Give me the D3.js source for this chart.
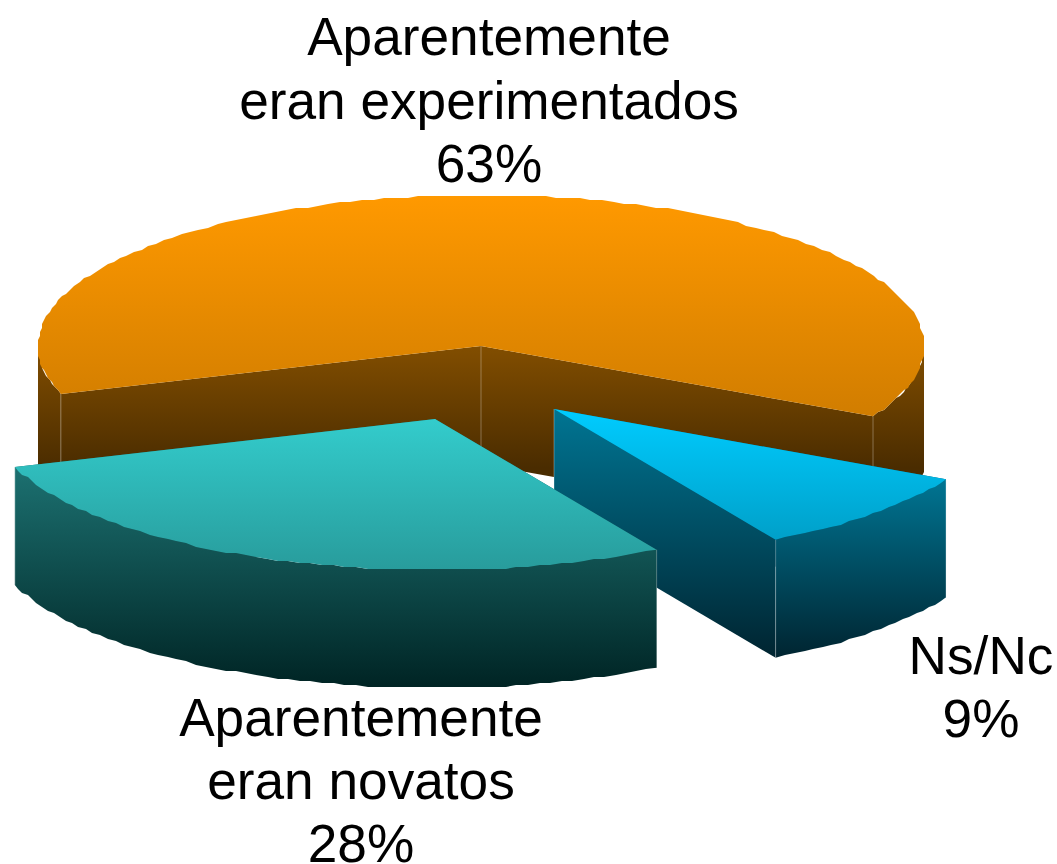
<!DOCTYPE html>
<html>
<head>
<meta charset="utf-8">
<style>html,body{margin:0;padding:0;background:#fff}svg{display:block}text{font-family:"Liberation Sans",Arial,sans-serif;fill:#000}</style>
<script src="https://cdn.jsdelivr.net/npm/d3@7/dist/d3.min.js"></script>
</head>
<body>
<svg id="chart" width="1057" height="864"></svg>
<script>
// Data
const categories = ["Aparentemente eran experimentados", "Ns/Nc", "Aparentemente eran novatos"];
const values = [62.85, 8.95, 28.2];
const labelLines = [["Aparentemente", "eran experimentados", "63%"], ["Ns/Nc", "9%"], ["Aparentemente", "eran novatos", "28%"]];

// Styles: [top start, top end, wall start, wall end]
const palette = [
  ["#ff9900", "#d17d00", "#824e00", "#4a2c00"],
  ["#00ccff", "#00a0c9", "#007593", "#002430"],
  ["#33cccc", "#289c9c", "#1c7171", "#002424"]
];

// Layout
const W = 1057, H = 864;
const cx = 481, cy = 346, rx = 443, ry = 151, depth = 118, grid = 2, stepDeg = 1.5;
const explode = [[0, 0], [73, 63], [-46, 73]];
const labelPos = [[489, 55, 63.5], [981, 674, 63], [361, 736, 63]];
const wallSpan = [[346, 346, 468], [409, 479, 658], [419, 467, 687]]; // cut-face start, outer start, end
const startDeg = 251.5;

const svg = d3.select("#chart");
const defs = svg.append("defs");
const pie = d3.pie().sort(null).startAngle(startDeg * Math.PI / 180).endAngle((startDeg + 360) * Math.PI / 180);
const arcs = pie(values);
const line = d3.line().x(d => d[0]).y(d => d[1]);
const closed = pts => line(pts) + "Z";

let gid = 0;
function gradient(y0, y1, c0, c1) {
  const id = "g" + (gid++);
  const g = defs.append("linearGradient").attr("id", id).attr("gradientUnits", "userSpaceOnUse")
    .attr("x1", 0).attr("x2", 0).attr("y1", y0).attr("y2", y1);
  g.append("stop").attr("offset", 0).attr("stop-color", c0);
  g.append("stop").attr("offset", 1).attr("stop-color", c1);
  return "url(#" + id + ")";
}
const q = v => Math.round(v / grid) * grid;
const pt = (a, [dx, dy], rough) => {
  const x = cx + rx * Math.sin(a), y = cy - ry * Math.cos(a);
  return rough ? [q(x) + dx, q(y) + dy] : [x + dx, y + dy];
};
function arcPoints(a0, a1, off) {
  const n = Math.ceil((a1 - a0) / (stepDeg * Math.PI / 180));
  return d3.range(n + 1).map(i => pt(a0 + (a1 - a0) * i / n, off, i > 0 && i < n));
}
const down = p => [p[0], p[1] + depth];

// Front-facing angular spans of an arc
function frontSpans(a0, a1) {
  const spans = [];
  const T = 2 * Math.PI;
  for (let k = -1; k < 3; k++) {
    const s = Math.max(a0, Math.PI / 2 + k * T), e = Math.min(a1, 1.5 * Math.PI + k * T);
    if (e > s) spans.push([s, e]);
  }
  return spans;
}

arcs.forEach((d, i) => {
  const off = explode[i], col = palette[i], span = wallSpan[i];
  const g = svg.append("g");
  const apex = [cx + off[0], cy + off[1]];
  const top = arcPoints(d.startAngle, d.endAngle, off);
  const ys = top.map(p => p[1]).concat([apex[1]]);
  const yMin = d3.min(ys), yMax = d3.max(ys);
  const cutFill = gradient(span[0], span[2], col[2], col[3]);
  const outerFill = gradient(span[1], span[2], col[2], col[3]);
  const a = pt(d.startAngle, off), b = pt(d.endAngle, off);

  // cut faces
  [a, b].forEach(p => {
    g.append("path").attr("d", closed([apex, p, down(p), down(apex)])).attr("fill", cutFill);
  });
  // outer wall
  frontSpans(d.startAngle, d.endAngle).forEach(([s, e]) => {
    const pts = arcPoints(s, e, off);
    g.append("path").attr("d", closed(pts.concat(pts.map(down).reverse()))).attr("fill", outerFill);
  });
  // seams
  [apex, a, b].forEach(p => {
    g.append("line").attr("x1", p[0]).attr("x2", p[0]).attr("y1", p[1]).attr("y2", p[1] + depth)
      .attr("stroke", "#fff").attr("stroke-opacity", 0.3).attr("stroke-width", 1);
  });
  // top
  g.append("path").attr("d", closed([apex].concat(top))).attr("fill", gradient(yMin, yMax, col[0], col[1]));
});

// Labels
labelLines.forEach((lines, i) => {
  const [x, y, lh] = labelPos[i];
  const t = svg.append("text").attr("text-anchor", "middle").attr("font-size", 53.2);
  lines.forEach((s, k) => t.append("tspan").attr("x", x).attr("y", y + k * lh).text(s));
});
</script>
</body>
</html>
